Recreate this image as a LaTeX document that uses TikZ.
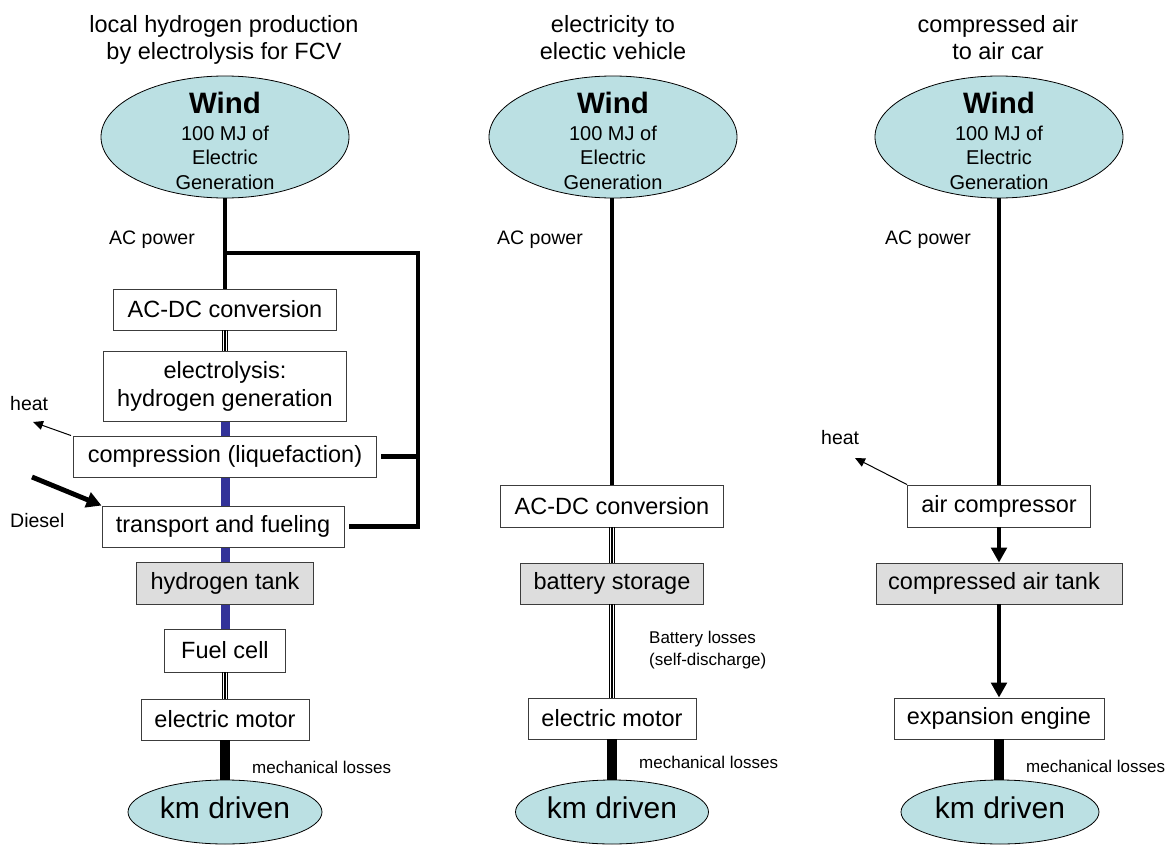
\documentclass[tikz,border=0pt]{standalone}
\usepackage{fontspec}
\setmainfont{Liberation Sans}
\usetikzlibrary{shapes.geometric,arrows.meta,backgrounds}
\definecolor{ellfill}{RGB}{187,224,227}
\definecolor{tankfill}{RGB}{221,221,221}
\definecolor{hblue}{RGB}{51,51,153}
\definecolor{boxline}{RGB}{60,60,60}
\tikzset{
  stepbox/.style={draw=boxline, line width=0.9pt, fill=white, inner sep=0pt,
    font=\fontsize{23.5}{28}\selectfont, align=center, minimum height=41pt},
  tankbox/.style={stepbox, fill=tankfill},
  ell/.style={ellipse, draw=black, line width=0.8pt, fill=ellfill, inner sep=0pt},
  titletxt/.style={anchor=base, inner sep=0pt, font=\fontsize{23.5}{27}\selectfont},
  windtxt/.style={anchor=base, inner sep=0pt, font=\fontsize{29.5}{32}\selectfont\bfseries},
  gentxt/.style={anchor=base, inner sep=0pt, font=\fontsize{20}{24}\selectfont},
  kmtxt/.style={anchor=base, inner sep=0pt, font=\fontsize{30}{34}\selectfont},
  smalltxt/.style={anchor=base west, inner sep=0pt, font=\fontsize{19.5}{23}\selectfont},
  tinytxt/.style={anchor=base west, inner sep=0pt, font=\fontsize{17}{21}\selectfont},
  power/.style={line width=4.7pt},
  mech/.style={line width=9.5pt},
  h2line/.style={line width=9pt, draw=hblue},
  thinline/.style={line width=1.3pt},
  heatarrow/.style={line width=1pt, -{Triangle[length=10pt,width=9pt]}},
  bigarrow/.style={line width=4.9pt, -{Triangle[length=15pt,width=15.5pt]}}
}
\newcommand\tripleline[2]{%
  \foreach \dx in {-2.6,0,2.6}{\draw[thinline] ([xshift=\dx pt]#1.south) -- ([xshift=\dx pt]#2.north);}}
\newcommand\windblock[2]{%
  \node[ell, minimum width=248pt, minimum height=122pt] (#1) at (#2,137) {};
  \node[windtxt] (#1w) at (#2,113) {Wind};
  \node[gentxt] (#1a) at (#2,140) {100 MJ of};
  \node[gentxt] (#1b) at (#2,164.5) {Electric};
  \node[gentxt] (#1c) at (#2,189) {Generation};}
\newcommand\kmblock[3]{%
  \node[ell, minimum width=#3pt, minimum height=64pt] (#1) at (#2,812) {};
  \node[kmtxt] (#1t) at (#2,818) {km driven};}
\begin{document}
\begin{tikzpicture}[x=1pt,y=-1pt]
\useasboundingbox (0,0) rectangle (1171,846);

% ---------- titles ----------
\node[titletxt] (t1a) at (224,32.3) {local hydrogen production};
\node[titletxt] (t1b) at (224,59.3) {by electrolysis for FCV};
\node[titletxt] (t2a) at (613,32.3) {electricity to};
\node[titletxt] (t2b) at (613,59.3) {electic vehicle};
\node[titletxt] (t3a) at (998,32.3) {compressed air};
\node[titletxt] (t3b) at (998,59.3) {to air car};

% ---------- wind ellipses ----------
\windblock{w1}{225}
\windblock{w2}{613}
\windblock{w3}{999}

% ---------- column 1 ----------
\node[stepbox, minimum width=223pt] (acdc1) at (225,309.5) {AC-DC conversion};
\node[stepbox, minimum width=243pt, minimum height=70pt] (elec) at (225,386) {electrolysis:\\hydrogen generation};
\node[stepbox, minimum width=303pt] (comp) at (225,456.5) {compression (liquefaction)};
\node[stepbox, minimum width=242pt] (trans) at (223,526.5) {transport and fueling};
\node[tankbox, minimum width=177pt, minimum height=42pt] (htank) at (225,583) {hydrogen tank};
\node[stepbox, minimum width=121pt, minimum height=43pt] (fc) at (225,650.5) {Fuel cell};
\node[stepbox, minimum width=168pt] (motor1) at (225,719.5) {electric motor};
\kmblock{km1}{225}{194}

\begin{pgfonlayer}{background}
  \draw[h2line] (elec.south) -- (fc.north);
\end{pgfonlayer}

\node[smalltxt] (ac1) at (109,244) {AC power};
\draw[power] (w1.south) -- (acdc1.north);
\coordinate (br1) at (225,253);
\coordinate (br1r) at (418,253);
\draw[power] (br1) -- (br1r) -- (br1r |- trans.east) -- ([xshift=5pt]trans.east);
\draw[power] (br1r |- comp.east) -- ([xshift=4pt]comp.east);
\tripleline{acdc1}{elec}
\tripleline{fc}{motor1}
\draw[mech] (motor1.south) -- (km1.north);
\node[tinytxt] (ml1) at (252,773) {mechanical losses};

\node[smalltxt] (heat1) at (10,410.5) {heat};
\coordinate (heat1tip) at (33,422);
\draw[heatarrow] ([xshift=-2pt]comp.north west) -- (heat1tip);
\node[smalltxt] (diesel) at (10,527) {Diesel};
\coordinate (diesel0) at (32,477);
\draw[bigarrow] (diesel0) -- (trans.north west);

% ---------- column 2 ----------
\node[stepbox, minimum width=223pt, minimum height=42pt] (acdc2) at (612,506) {AC-DC conversion};
\node[tankbox, minimum width=183pt] (batt) at (612,583.5) {battery storage};
\node[stepbox, minimum width=168pt] (motor2) at (612,718.5) {electric motor};
\kmblock{km2}{612}{193}
\node[smalltxt] (ac2) at (497,244) {AC power};
\draw[power] (w2.south -| acdc2.north) -- (acdc2.north);
\tripleline{acdc2}{batt}
\tripleline{batt}{motor2}
\draw[mech] (motor2.south) -- (km2.north);
\node[tinytxt] (bl1) at (649,643) {Battery losses};
\node[tinytxt] (bl2) at (649,665) {(self-discharge)};
\node[tinytxt] (ml2) at (639,768) {mechanical losses};

% ---------- column 3 ----------
\node[stepbox, minimum width=183pt, minimum height=42pt] (comp3) at (999,506) {air compressor};
\node[tankbox, minimum width=246pt] (tank3) at (999,583.5) {compressed air tank\hspace*{10pt}};
\node[stepbox, minimum width=210pt] (expe) at (999,718.5) {expansion engine};
\kmblock{km3}{1000}{198}
\node[smalltxt] (ac3) at (885,244) {AC power};
\draw[power] (w3.south) -- (comp3.north);
\draw[bigarrow] (comp3.south) -- (tank3.north);
\draw[bigarrow] (tank3.south) -- (expe.north);
\draw[mech] (expe.south) -- (expe.south |- km3.north);
\node[tinytxt] (ml3) at (1026,772) {mechanical losses};
\node[smalltxt] (heat3) at (821,444) {heat};
\coordinate (heat3tip) at (855,458);
\draw[heatarrow] (comp3.north west) -- (heat3tip);
\end{tikzpicture}
\end{document}
